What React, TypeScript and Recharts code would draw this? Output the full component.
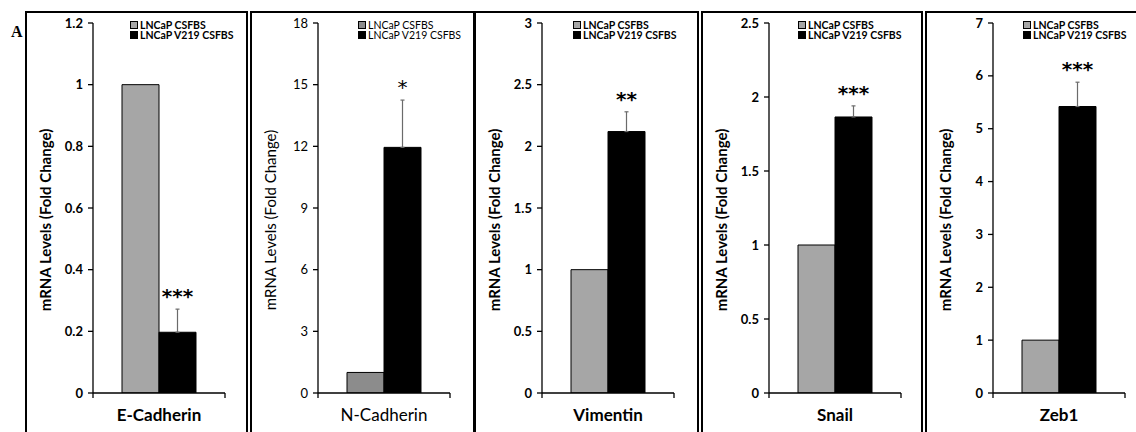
import React from "react";
import { BarChart, Bar, XAxis, YAxis, ErrorBar, LabelList, Legend } from "recharts";

const genes = ["E-Cadherin", "N-Cadherin", "Vimentin", "Snail", "Zeb1"];
const csfbs = [1, 1, 1, 1, 1];
const v219 = [0.197, 11.95, 2.12, 1.865, 5.42];
const v219Err = [0.075, 2.3, 0.16, 0.075, 0.46];
const stars = ["***", "*", "**", "***", "***"];
const yMax = [1.2, 18, 3, 2.5, 7];
const yTicks = [
  [0, 0.2, 0.4, 0.6, 0.8, 1, 1.2],
  [0, 3, 6, 9, 12, 15, 18],
  [0, 0.5, 1, 1.5, 2, 2.5, 3],
  [0, 0.5, 1, 1.5, 2, 2.5],
  [0, 1, 2, 3, 4, 5, 6, 7],
];
const seriesNames = ["LNCaP CSFBS", "LNCaP V219 CSFBS"];

// panel boxes / per-panel look
const panels = [
  { left: 25, width: 223, bold: true, gray: "#a6a6a6", legendLeft: 105 },
  { left: 250, width: 225, bold: false, gray: "#8c8c8c", legendLeft: 108 },
  { left: 474, width: 225, bold: true, gray: "#a6a6a6", legendLeft: 99 },
  { left: 701, width: 222, bold: true, gray: "#a6a6a6", legendLeft: 97 },
  { left: 925, width: 300, bold: true, gray: "#a6a6a6", legendLeft: 98 },
];

const FONT = "Lato, 'Open Sans', sans-serif";

const XTick = (bold: boolean) => (props: any) => {
  const { x, y, payload } = props;
  const half = payload && payload.offset ? payload.offset : 66;
  return (
    <g>
      <line x1={x - half} x2={x - half} y1={y} y2={y + 5} stroke="#000" strokeWidth={1.3} />
      <line x1={x + half} x2={x + half} y1={y} y2={y + 5} stroke="#000" strokeWidth={1.3} />
      <text x={x} y={y + 28} textAnchor="middle" fontSize={17} fontWeight={bold ? 700 : 400} fill="#000" fontFamily={FONT}>
        {payload.value}
      </text>
    </g>
  );
};

const YLabel = (bold: boolean) => (props: any) => {
  const vb = props.viewBox || {};
  const cx = (vb.x || 0) + 20;
  const cy = (vb.y || 0) + vb.height / 2 + 12;
  return (
    <text
      x={cx}
      y={cy}
      transform={`rotate(-90 ${cx} ${cy})`}
      textAnchor="middle"
      dominantBaseline="central"
      fontSize={15}
      fontWeight={bold ? 700 : 400}
      fill="#000"
      fontFamily={FONT}
    >
      mRNA Levels (Fold Change)
    </text>
  );
};

const Stars = (i: number, bold: boolean) => (props: any) => {
  const { x, y, width, height, value } = props;
  const perUnit = Number(height) / Number(value);
  const top = Number(y) - v219Err[i] * perUnit;
  return (
    <text
      x={Number(x) + Number(width) / 2}
      y={top - 6}
      textAnchor="middle"
      fontSize={20}
      fontWeight={bold ? 700 : 400}
      fill="#000"
      fontFamily="'DejaVu Sans', sans-serif"
    >
      {stars[i]}
    </text>
  );
};

const LegendBox = (bold: boolean) => (props: any) => {
  const items = props.payload || [];
  return (
    <div style={{ fontFamily: FONT, fontSize: 10.5, fontWeight: bold ? 700 : 400, lineHeight: "11px" }}>
      {items.map((it: any) => (
        <div key={it.value} style={{ display: "flex", alignItems: "center", whiteSpace: "nowrap", height: 10 }}>
          <span style={{ display: "inline-block", width: 6, height: 6, background: it.color, border: "1px solid #000", marginRight: 2 }} />
          {it.value}
        </div>
      ))}
    </div>
  );
};

function Panel({ i }: { i: number }) {
  const p = panels[i];
  const data = [{ gene: genes[i], csfbs: csfbs[i], v219: v219[i], err: [0, v219Err[i]] }];
  return (
    <div style={{ position: "absolute", left: p.left, top: 0 }}>
      <BarChart width={224} height={432} data={data} margin={{ top: 23, right: 24, bottom: 9, left: 0 }} barGap={0} barSize={37}>
        <XAxis dataKey="gene" tickLine={false} tickSize={0} tickMargin={0} height={30} interval={0} axisLine={{ stroke: "#000", strokeWidth: 1.3 }} tick={XTick(p.bold)} />
        <YAxis
          width={68}
          domain={[0, yMax[i]]}
          ticks={yTicks[i]}
          interval={0}
          allowDataOverflow
          tickSize={5}
          tickMargin={5}
          axisLine={{ stroke: "#000", strokeWidth: 1.3 }}
          tickLine={{ stroke: "#000", strokeWidth: 1.3 }}
          tick={{ fontSize: 13, fontWeight: p.bold ? 700 : 400, fill: "#000", fontFamily: FONT }}
          label={{ content: YLabel(p.bold) }}
        />
        <Legend layout="vertical" align="center" verticalAlign="middle" wrapperStyle={{ top: 20, left: p.legendLeft, width: "auto" }} content={LegendBox(p.bold)} />
        <Bar dataKey="csfbs" name={seriesNames[0]} fill={p.gray} stroke="#000" strokeWidth={1} isAnimationActive={false} />
        <Bar dataKey="v219" name={seriesNames[1]} fill="#000" stroke="#000" strokeWidth={1} isAnimationActive={false}>
          <ErrorBar dataKey="err" width={2} stroke="#6b6b6b" strokeWidth={1.2} direction="y" />
          <LabelList dataKey="v219" content={Stars(i, p.bold)} />
        </Bar>
      </BarChart>
    </div>
  );
}

export default function App() {
  return (
    <div style={{ position: "absolute", left: 0, top: 0, width: 1136, height: 432, overflow: "hidden", background: "#fff" }}>
      {panels.map((p, i) => (
        <div
          key={"box" + i}
          style={{ position: "absolute", left: p.left, top: 11, width: p.width, height: 440, border: "2px solid #000", boxSizing: "border-box" }}
        />
      ))}
      <div style={{ position: "absolute", left: 11, top: 24, fontFamily: "'Liberation Serif', serif", fontWeight: 700, fontSize: 16, lineHeight: "16px" }}>A</div>
      {genes.map((g, i) => (
        <Panel key={g} i={i} />
      ))}
    </div>
  );
}
